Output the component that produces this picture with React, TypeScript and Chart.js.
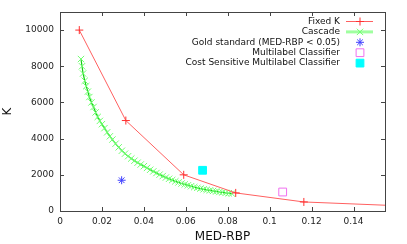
import React, { useEffect, useRef } from "react";
import { Chart, registerables } from "chart.js";
Chart.register(...registerables);

const fixedK_x = [0.0092, 0.0314, 0.059, 0.0838, 0.1163, 0.17];
const fixedK_y = [10000, 5000, 2000, 1000, 500, 250];

const cascade_x = [
  0.0100, 0.0105, 0.0110, 0.0118, 0.0125, 0.0133, 0.0140, 0.0150, 0.0160, 0.0170,
  0.0180, 0.0190, 0.0200, 0.0212, 0.0225, 0.0238, 0.0250, 0.0265, 0.0280, 0.0295,
  0.0310, 0.0325, 0.0340, 0.0355, 0.0370, 0.0385, 0.0400, 0.0415, 0.0430, 0.0445,
  0.0460, 0.0475, 0.0490, 0.0505, 0.0520, 0.0535, 0.0550, 0.0565, 0.0580, 0.0595,
  0.0610, 0.0625, 0.0640, 0.0655, 0.0670, 0.0685, 0.0700, 0.0715, 0.0730, 0.0745,
  0.0760, 0.0775, 0.0790, 0.0805, 0.0820,
];
const cascade_y = [
  8400, 8000, 7600, 7200, 6900, 6600, 6300, 6000, 5750, 5450,
  5200, 4980, 4800, 4580, 4350, 4130, 3950, 3720, 3520, 3330,
  3170, 3030, 2900, 2780, 2670, 2570, 2480, 2380, 2280, 2190,
  2100, 2010, 1930, 1850, 1780, 1710, 1640, 1580, 1520, 1470,
  1420, 1370, 1320, 1280, 1240, 1200, 1170, 1140, 1110, 1080,
  1050, 1030, 1000, 980, 960,
];

const gold_x = [0.0294];
const gold_y = [1700];
const multi_x = [0.1062];
const multi_y = [1050];
const costSens_x = [0.068];
const costSens_y = [2250];

const seriesLabels = [
  "Fixed K",
  "Cascade",
  "Gold standard (MED-RBP < 0.05)",
  "Multilabel Classifier",
  "Cost Sensitive Multilabel Classifier",
];

const xTicks = [0, 0.02, 0.04, 0.06, 0.08, 0.1, 0.12, 0.14];
const yTicks = [0, 2000, 4000, 6000, 8000, 10000];
const xMin = 0, xMax = 0.155;
const yMin = 0, yMax = 11000;

const FONT = "DejaVu Sans";

function pts(xs: number[], ys: number[]) {
  return xs.map((x, i) => ({ x, y: ys[i] }));
}

function drawMarker(ctx: CanvasRenderingContext2D, style: string, x: number, y: number, r: number, stroke: string, fill: string) {
  ctx.save();
  ctx.strokeStyle = stroke;
  ctx.fillStyle = fill;
  ctx.lineWidth = 1;
  ctx.beginPath();
  if (style === "cross") {
    ctx.moveTo(x - r, y); ctx.lineTo(x + r, y);
    ctx.moveTo(x, y - r); ctx.lineTo(x, y + r);
    ctx.stroke();
  } else if (style === "crossRot") {
    const d = r * Math.SQRT1_2;
    ctx.moveTo(x - d, y - d); ctx.lineTo(x + d, y + d);
    ctx.moveTo(x - d, y + d); ctx.lineTo(x + d, y - d);
    ctx.stroke();
  } else if (style === "star") {
    const d = r * Math.SQRT1_2;
    ctx.moveTo(x - r, y); ctx.lineTo(x + r, y);
    ctx.moveTo(x, y - r); ctx.lineTo(x, y + r);
    ctx.moveTo(x - d, y - d); ctx.lineTo(x + d, y + d);
    ctx.moveTo(x - d, y + d); ctx.lineTo(x + d, y - d);
    ctx.stroke();
  } else if (style === "rect") {
    const s = r * Math.SQRT1_2;
    ctx.rect(x - s, y - s, 2 * s, 2 * s);
    if (fill !== "transparent") ctx.fill();
    ctx.stroke();
  }
  ctx.restore();
}

const framePlugin = {
  id: "frameTicks",
  afterDatasetsDraw(chart: any) {
    const { ctx, chartArea: a, scales } = chart;
    ctx.save();
    ctx.strokeStyle = "#444";
    ctx.lineWidth = 1;
    ctx.strokeRect(Math.round(a.left) + 0.5, Math.round(a.top) + 0.5, Math.round(a.right - a.left), Math.round(a.bottom - a.top));
    const tl = 4;
    ctx.beginPath();
    scales.x.ticks.forEach((t: any) => {
      const px = Math.round(scales.x.getPixelForValue(t.value)) + 0.5;
      ctx.moveTo(px, a.bottom); ctx.lineTo(px, a.bottom - tl);
      ctx.moveTo(px, a.top); ctx.lineTo(px, a.top + tl);
    });
    scales.y.ticks.forEach((t: any) => {
      const py = Math.round(scales.y.getPixelForValue(t.value)) + 0.5;
      ctx.moveTo(a.left, py); ctx.lineTo(a.left + tl, py);
      ctx.moveTo(a.right, py); ctx.lineTo(a.right - tl, py);
    });
    ctx.stroke();

    // legend
    const textRight = 340;
    const sx0 = 346, sx1 = 373, mx = 360;
    const y0 = 21.5, dy = 10.4;
    ctx.font = `9px "${FONT}"`;
    ctx.textAlign = "right";
    ctx.textBaseline = "middle";
    chart.data.datasets.forEach((ds: any, i: number) => {
      const y = y0 + i * dy;
      ctx.fillStyle = "#111";
      ctx.fillText(ds.label, textRight, y);
      if (ds.showLine) {
        ctx.strokeStyle = i === 1 ? "#a0ffa0" : ds.borderColor;
        ctx.lineWidth = i === 1 ? 3 : 1;
        ctx.beginPath();
        ctx.moveTo(sx0, y); ctx.lineTo(sx1, y);
        ctx.stroke();
      }
      drawMarker(ctx, ds.pointStyle, mx, y, ds.pointRadius, ds.pointBorderColor, ds.pointBackgroundColor);
    });
    ctx.restore();
  },
};

export default function App() {
  const ref = useRef<HTMLCanvasElement>(null);
  useEffect(() => {
    document.body.style.margin = "0";
    const chart = new Chart(ref.current!, {
      type: "scatter",
      data: {
        datasets: [
          {
            label: seriesLabels[0],
            data: pts(fixedK_x, fixedK_y),
            showLine: true,
            borderColor: "#ff6060",
            borderWidth: 1,
            pointStyle: "cross",
            pointRadius: 4,
            pointBorderColor: "#ff3030",
            pointBackgroundColor: "#ff3030",
            pointBorderWidth: 1,
          },
          {
            label: seriesLabels[1],
            data: pts(cascade_x, cascade_y),
            showLine: true,
            borderColor: "#10d010",
            borderWidth: 1.2,
            pointStyle: "crossRot",
            pointRadius: 4.5,
            pointBorderColor: "#70ff70",
            pointBackgroundColor: "#70ff70",
            pointBorderWidth: 1,
          },
          {
            label: seriesLabels[2],
            data: pts(gold_x, gold_y),
            showLine: false,
            pointStyle: "star",
            pointRadius: 4,
            pointBorderColor: "#4040ff",
            pointBackgroundColor: "#4040ff",
            pointBorderWidth: 1,
          },
          {
            label: seriesLabels[3],
            data: pts(multi_x, multi_y),
            showLine: false,
            pointStyle: "rect",
            pointRadius: 5.5,
            pointBorderColor: "#f070f0",
            pointBackgroundColor: "transparent",
            pointBorderWidth: 1,
          },
          {
            label: seriesLabels[4],
            data: pts(costSens_x, costSens_y),
            showLine: false,
            pointStyle: "rect",
            pointRadius: 5.5,
            pointBorderColor: "#00ffff",
            pointBackgroundColor: "#00ffff",
            pointBorderWidth: 1,
          },
        ] as any,
      },
      options: {
        animation: false,
        responsive: true,
        maintainAspectRatio: false,
        layout: { padding: { left: 0, right: 22, top: 12, bottom: 0 } },
        plugins: { legend: { display: false }, tooltip: { enabled: false } },
        scales: {
          x: {
            type: "linear",
            min: xMin,
            max: xMax,
            grid: { display: false, drawTicks: false },
            border: { display: false },
            ticks: {
              autoSkip: false,
              maxRotation: 0,
              padding: 5,
              color: "#222",
              font: { family: FONT, size: 9 },
              callback: (v: any) => String(Number(Number(v).toFixed(2))),
            },
            afterBuildTicks: (s: any) => { s.ticks = xTicks.map((v) => ({ value: v })); },
            title: { display: true, text: "MED-RBP", color: "#111", font: { family: FONT, size: 12 }, padding: { top: 0, bottom: 0 } },
            afterFit: (s: any) => { s.height = 33; },
          },
          y: {
            type: "linear",
            min: yMin,
            max: yMax,
            grid: { display: false, drawTicks: false },
            border: { display: false },
            ticks: {
              autoSkip: false,
              padding: 6,
              color: "#222",
              font: { family: FONT, size: 9 },
              callback: (v: any) => String(v),
            },
            afterBuildTicks: (s: any) => { s.ticks = yTicks.map((v) => ({ value: v })); },
            title: { display: true, text: "K", color: "#111", font: { family: FONT, size: 12 }, padding: { top: 1, bottom: 0 } },
            afterFit: (s: any) => { s.width = 60; },
          },
        },
      },
      plugins: [framePlugin],
    });
    return () => chart.destroy();
  }, []);
  return (
    <div style={{ position: "absolute", left: 0, top: 0, width: 407, height: 244 }}>
      <canvas ref={ref} />
    </div>
  );
}
